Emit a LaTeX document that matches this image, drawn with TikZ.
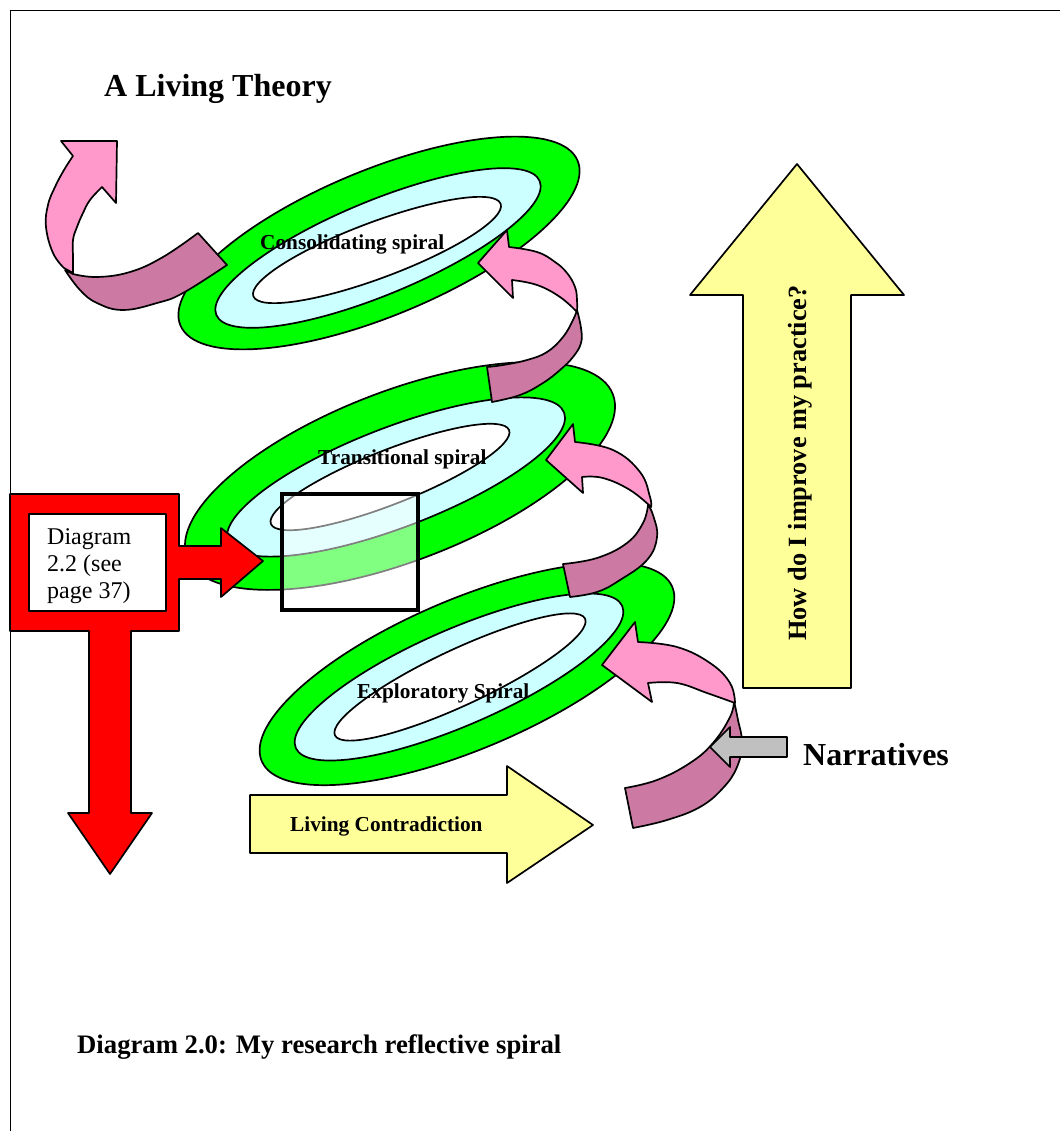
\documentclass[tikz,border=0pt]{standalone}
\usepackage{fontspec}
\setmainfont{Liberation Serif}
\usepackage{tikz}

\definecolor{spiralgreen}{RGB}{0,255,0}
\definecolor{spiralcyan}{RGB}{204,255,255}
\definecolor{ribbonpink}{RGB}{255,153,204}
\definecolor{ribbonmauve}{RGB}{204,122,163}
\definecolor{notepaper}{RGB}{255,255,153}
\definecolor{narrgray}{RGB}{192,192,192}

\begin{document}
\begin{tikzpicture}[x=1pt,y=-1pt]
\tikzstyle{rimline}=[draw=black,line width=1.7pt,line join=round]
\tikzstyle{greenring}=[rimline,fill=spiralgreen]
\tikzstyle{cyanring}=[rimline,fill=spiralcyan]
\tikzstyle{hole}=[rimline,fill=white]
\tikzstyle{pinkband}=[rimline,fill=ribbonpink]
\tikzstyle{mauveband}=[rimline,fill=ribbonmauve]
\tikzstyle{spirallabel}=[inner sep=0pt,anchor=base west,font=\fontsize{21.3}{24}\selectfont\bfseries]
\useasboundingbox (0,0) rectangle (1060,1131);
\draw[line width=0.8pt] (10,1131) -- (10,10) -- (1060,10);

% consolidating spiral
\filldraw[greenring,rotate around={22.5:(379,243)}] (379,243) ellipse (215 and 73);
\filldraw[cyanring,rotate around={22.5:(378,248)}] (378,248) ellipse (175 and 47);
\filldraw[hole,rotate around={20.5:(377,250)}] (377,250) ellipse (132 and 28);
% transitional spiral
\filldraw[greenring,rotate around={21:(400,476)}] (400,476) ellipse (228 and 85);
\filldraw[cyanring,rotate around={21:(396,477)}] (396,477) ellipse (180 and 50);
\filldraw[hole,rotate around={21.5:(390,477)}] (390,477) ellipse (128 and 27);
% exploratory spiral
\filldraw[greenring,rotate around={23:(467,674)}] (467,674) ellipse (223 and 75);
\filldraw[cyanring,rotate around={23.5:(459,677)}] (459,677) ellipse (178 and 48);
\filldraw[hole,rotate around={25:(460,677)}] (460,677) ellipse (138 and 28);

% ribbon out of the top spiral
\filldraw[pinkband] plot[smooth,tension=0.7] coordinates {(64,268) (53,253) (46,227) (48,205) (55,187) (64,170) (73,156)}
  -- (61,141) -- (117,141) -- (116,203) -- (102,187)
  -- plot[smooth,tension=0.7] coordinates {(102,187) (90,200) (83,213) (77,227) (73,240) (73,257) (73,273)} -- cycle;
\filldraw[mauveband] plot[smooth,tension=0.7] coordinates {(65,270) (80,290) (97,303) (123,310) (157,303) (183,293) (227,265)}
  -- (198,233)
  -- plot[smooth,tension=0.7] coordinates {(198,233) (163,257) (130,272) (97,277) (73,274)} -- cycle;

% ribbon transitional -> consolidating
\filldraw[mauveband] plot[smooth,tension=0.7] coordinates {(577,310) (581,328) (581,343) (573,357) (560,370) (543,383) (520,395) (492,402)}
  -- (487,367)
  -- plot[smooth,tension=0.7] coordinates {(487,367) (503,365) (527,360) (547,352) (563,337) (573,320) (577,310)} -- cycle;
\filldraw[pinkband] (478,263) -- (507,230) -- (509,247)
  -- plot[smooth,tension=0.7] coordinates {(509,247) (537,252) (555,262) (567,273) (575,287) (577,300) (577,312)}
  -- plot[smooth,tension=0.7] coordinates {(577,312) (560,297) (537,285) (512,280)}
  -- (513,298) -- cycle;

% ribbon exploratory -> transitional
\filldraw[mauveband] plot[smooth,tension=0.7] coordinates {(648,505) (653,515) (657,537) (647,560) (620,580) (597,592) (570,597)}
  -- (563,564)
  -- plot[smooth,tension=0.7] coordinates {(563,564) (597,558) (627,543) (643,523) (648,505)} -- cycle;
\filldraw[pinkband] (546,460) -- (573,424) -- (575,442)
  -- plot[smooth,tension=0.7] coordinates {(575,442) (613,450) (640,472) (650,497) (651,507)}
  -- plot[smooth,tension=0.7] coordinates {(651,507) (630,490) (603,478) (582,477)}
  -- (583,493) -- cycle;

% ribbon into the exploratory spiral
\filldraw[mauveband] plot[smooth,tension=0.7] coordinates {(734,701) (738,720) (742,743) (737,767) (723,788) (700,807) (667,820) (633,828)}
  -- (625,788)
  -- plot[smooth,tension=0.7] coordinates {(625,788) (657,780) (690,763) (713,743) (730,717) (734,701)} -- cycle;
\filldraw[pinkband] (602,665) -- (635,622) -- (638,642)
  -- plot[smooth,tension=0.7] coordinates {(638,642) (677,647) (710,663) (730,683) (735,703)}
  -- plot[smooth,tension=0.7] coordinates {(735,703) (707,693) (677,683) (648,683)}
  -- (652,702) -- cycle;

% narratives arrow
\filldraw[rimline,fill=narrgray] (787,737) -- (730,737) -- (730,727) -- (710,747)
  -- (730,767) -- (730,757) -- (787,757) -- cycle;

% diagram 2.2 callout
\filldraw[rimline,fill=red] (10,494) -- (179,494) -- (179,546) -- (221,546) -- (221,528)
  -- (263,561) -- (221,597) -- (221,579) -- (179,579) -- (179,631) -- (131,631)
  -- (131,813) -- (152,813) -- (110,874) -- (68,813) -- (89,813) -- (89,631) -- (10,631) -- cycle;
\filldraw[rimline,fill=white] (29,514) rectangle (166,611);
\node[anchor=north west,align=left,inner sep=0pt,font=\fontsize{24}{27}\selectfont] (note) at (47,528) {Diagram\\2.2 (see\\page 37)};

% zoom frame
\filldraw[draw=black,line width=3.5pt,fill=white,fill opacity=0.5] (282,494) rectangle (418,610);

% yellow arrows
\filldraw[rimline,fill=notepaper] (797,164) -- (904,295) -- (851,295) -- (851,688)
  -- (743,688) -- (743,295) -- (690,295) -- cycle;
\filldraw[rimline,fill=notepaper] (250,795) -- (507,795) -- (507,766) -- (593,825)
  -- (507,883) -- (507,853) -- (250,853) -- cycle;

% texts
\node[inner sep=0pt,anchor=base west,font=\fontsize{32}{38}\selectfont\bfseries] (title) at (104,97) {A Living Theory};
\node[spirallabel] (consol) at (260,250) {Consolidating spiral};
\node[spirallabel] (trans) at (318,464) {Transitional spiral};
\node[spirallabel] (explor) at (357,698) {Exploratory Spiral};
\node[spirallabel] (contra) at (290,831) {Living Contradiction};
\node[inner sep=0pt,rotate=90,font=\fontsize{26.3}{30}\selectfont\bfseries] (practice) at (800,463) {How do I improve my practice?};
\node[inner sep=0pt,anchor=base west,font=\fontsize{32}{38}\selectfont\bfseries] (narr) at (803,765) {Narratives};
\node[inner sep=0pt,anchor=base west,font=\fontsize{26.7}{30}\selectfont\bfseries] (caption) at (77,1053) {Diagram 2.0: My research reflective spiral};
\end{tikzpicture}
\end{document}
